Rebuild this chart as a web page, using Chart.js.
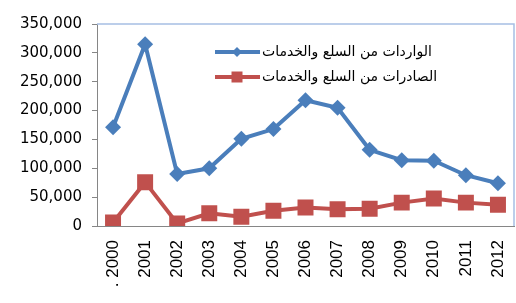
<!DOCTYPE html>
<html>
<head>
<meta charset="utf-8">
<script src="https://cdn.jsdelivr.net/npm/chart.js@4.4.1/dist/chart.umd.min.js"></script>
<style>
  html, body { margin: 0; padding: 0; background: #fff; }
</style>
</head>
<body>
<canvas id="myChart" width="516" height="303"></canvas>
<script>
var years = [". 2000", "2001", "2002", "2003", "2004", "2005", "2006", "2007", "2008", "2009", "2010", "2011", "2012"];
var imports = [171000, 315000, 90000, 100000, 151000, 168000, 218000, 205000, 132000, 114000, 113000, 88000, 74000];
var exports = [6000, 76000, 4500, 22000, 16000, 26500, 32000, 29000, 30000, 40500, 47500, 40500, 37000];
var yTicks = [0, 50000, 100000, 150000, 200000, 250000, 300000, 350000];

// legend drawn inside the plot area, top right
var insideLegend = {
  id: 'insideLegend',
  afterDraw: function(chart) {
    var c = chart.ctx;
    var a = chart.chartArea;
    // light blue plot border top and right
    c.save();
    c.strokeStyle = '#a7bfe4';
    c.lineWidth = 1.5;
    c.beginPath();
    c.moveTo(a.left, a.top);
    c.lineTo(a.right, a.top);
    c.lineTo(a.right, a.bottom);
    c.stroke();

    chart.data.datasets.forEach(function(ds, i) {
      var y = 52 + i * 25;
      c.strokeStyle = ds.borderColor;
      c.lineWidth = 4;
      c.beginPath();
      c.moveTo(215, y);
      c.lineTo(260, y);
      c.stroke();
      c.fillStyle = ds.borderColor;
      c.beginPath();
      if (i === 0) {
        c.moveTo(237, y - 5);
        c.lineTo(242, y);
        c.lineTo(237, y + 5);
        c.lineTo(232, y);
        c.closePath();
      } else {
        c.rect(231.5, y - 5.5, 11, 11);
      }
      c.fill();
      c.fillStyle = '#000';
      c.font = '14px "DejaVu Sans"';
      c.textBaseline = 'middle';
      c.textAlign = 'left';
      c.fillText(ds.label, 262, y);
    });
    c.restore();
  }
};

window.onload = function(){
  var ctx = document.getElementById("myChart");
  var myChart = new Chart(ctx, {
    type: 'line',
    data: {
      labels: years,
      datasets: [{
        label: "الواردات من السلع والخدمات",
        data: imports,
        borderColor: "#4a7ebb",
        backgroundColor: "#4a7ebb",
        borderWidth: 4,
        pointStyle: 'rectRot',
        pointRadius: 8,
        pointBorderWidth: 0,
        tension: 0
      }, {
        label: "الصادرات من السلع والخدمات",
        data: exports,
        borderColor: "#c0504d",
        backgroundColor: "#c0504d",
        borderWidth: 4,
        pointStyle: 'rect',
        pointRadius: 11.3,
        pointBorderWidth: 0,
        tension: 0
      }]
    },
    options: {
      responsive: false,
      animation: false,
      layout: { autoPadding: false, padding: { top: 24, right: 2, left: 0, bottom: 0 } },
      plugins: {
        legend: { display: false },
        tooltip: { enabled: false }
      },
      scales: {
        x: {
          offset: true,
          grid: { display: false },
          border: { color: '#868686', width: 1 },
          ticks: {
            color: '#000',
            font: { family: '"Liberation Sans", Arial', size: 17 },
            minRotation: 90,
            maxRotation: 90,
            padding: 6,
            autoSkip: false
          },
          afterFit: function(s) {
            s.height = 77;
            s.paddingLeft = 0;
            s.paddingRight = 0;
          }
        },
        y: {
          min: 0,
          max: 350000,
          afterBuildTicks: function(s) {
            s.ticks = yTicks.map(function(v) { return { value: v }; });
          },
          grid: { drawOnChartArea: false, drawTicks: true, tickLength: 5, color: '#868686' },
          border: { color: '#868686', width: 1 },
          ticks: {
            color: '#000',
            font: { family: '"DejaVu Sans"', size: 15 },
            padding: 10,
            callback: function(v) { return v.toLocaleString('en-US'); }
          },
          afterFit: function(s) {
            s.width = 97;
            s.paddingTop = 0;
            s.paddingBottom = 0;
          }
        }
      }
    },
    plugins: [insideLegend]
  });
};
</script>
</body>
</html>
